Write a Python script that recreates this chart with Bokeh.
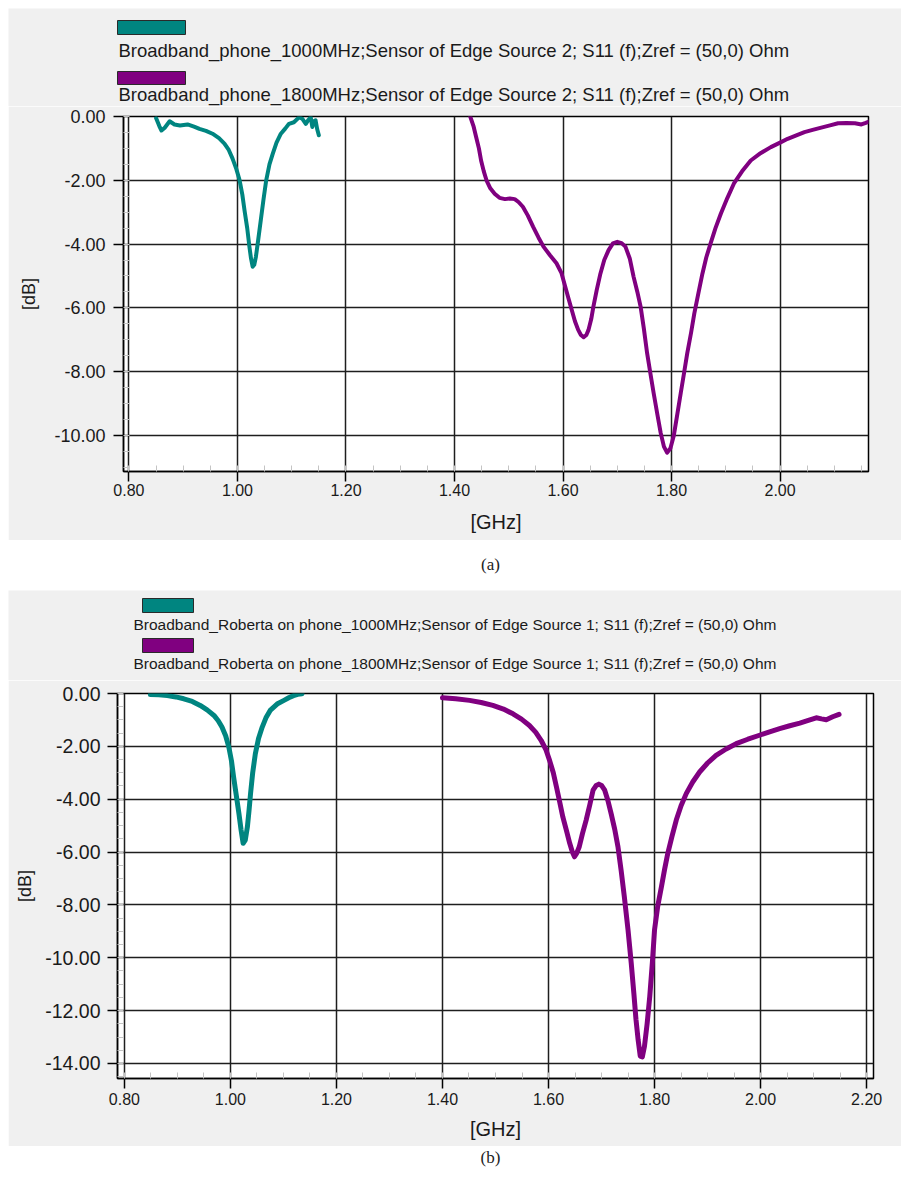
from bokeh.plotting import figure
from bokeh.models import Range1d, SingleIntervalTicker, NumeralTickFormatter, Div
from bokeh.layouts import column
from bokeh.core.properties import value
from bokeh.embed import file_html
from bokeh.resources import INLINE

# ---------------- data ----------------
# Panel (a): Broadband_phone
freq_a_1000 = [0.850, 0.856, 0.860, 0.866, 0.875, 0.884, 0.894, 0.908, 0.920, 0.930,
               0.942, 0.954, 0.966, 0.976, 0.984, 0.991, 0.998, 1.004, 1.009, 1.013,
               1.018, 1.022, 1.025, 1.028, 1.031, 1.034, 1.038, 1.043, 1.048, 1.053,
               1.059, 1.065, 1.072, 1.080, 1.088, 1.095, 1.104, 1.114, 1.120, 1.126,
               1.131, 1.135, 1.138, 1.141, 1.144, 1.147, 1.150]
s11_a_1000 = [-0.05, -0.30, -0.44, -0.35, -0.15, -0.25, -0.28, -0.25, -0.32, -0.39,
              -0.45, -0.54, -0.68, -0.85, -1.05, -1.32, -1.65, -2.00, -2.45, -2.94,
              -3.50, -4.08, -4.45, -4.71, -4.65, -4.40, -3.90, -3.25, -2.60, -2.00,
              -1.50, -1.17, -0.82, -0.54, -0.38, -0.23, -0.18, -0.02, -0.08, -0.23,
              -0.10, -0.02, -0.33, -0.15, -0.12, -0.40, -0.59]

freq_a_1800 = [1.428, 1.435, 1.440, 1.445, 1.449, 1.454, 1.459, 1.466, 1.474, 1.483,
               1.493, 1.502, 1.511, 1.518, 1.526, 1.535, 1.545, 1.555, 1.564, 1.576,
               1.588, 1.597, 1.604, 1.610, 1.616, 1.622, 1.628, 1.633, 1.638, 1.643,
               1.647, 1.652, 1.656, 1.662, 1.669, 1.676, 1.684, 1.692, 1.700, 1.708,
               1.715, 1.723, 1.730, 1.737, 1.743, 1.749, 1.755, 1.761, 1.767, 1.774,
               1.780, 1.786, 1.792, 1.798, 1.804, 1.810, 1.817, 1.823, 1.829, 1.836,
               1.842, 1.850, 1.857, 1.864, 1.872, 1.881, 1.891, 1.903, 1.915, 1.930,
               1.946, 1.964, 1.983, 2.000, 2.014, 2.030, 2.045, 2.060, 2.076, 2.092,
               2.107, 2.122, 2.138, 2.150, 2.158, 2.165]
s11_a_1800 = [0.05, -0.30, -0.65, -1.00, -1.38, -1.72, -2.00, -2.25, -2.42, -2.55,
              -2.59, -2.57, -2.59, -2.68, -2.83, -3.10, -3.46, -3.80, -4.08, -4.35,
              -4.60, -4.90, -5.33, -5.70, -6.06, -6.42, -6.69, -6.85, -6.92, -6.85,
              -6.69, -6.35, -5.96, -5.45, -4.92, -4.50, -4.19, -3.98, -3.93, -3.97,
              -4.08, -4.45, -5.02, -5.50, -5.96, -6.65, -7.42, -8.05, -8.67, -9.35,
              -9.92, -10.35, -10.54, -10.40, -10.02, -9.40, -8.67, -8.05, -7.42, -6.78,
              -6.17, -5.50, -4.92, -4.42, -3.98, -3.50, -3.04, -2.55, -2.10, -1.72,
              -1.38, -1.15, -0.96, -0.82, -0.70, -0.59, -0.49, -0.42, -0.35, -0.28,
              -0.21, -0.20, -0.21, -0.25, -0.20, -0.15]

# Panel (b): Broadband_Roberta on phone
freq_b_1000 = [0.849, 0.865, 0.881, 0.897, 0.912, 0.928, 0.943, 0.956, 0.969, 0.977,
               0.984, 0.991, 0.997, 1.002, 1.006, 1.011, 1.016, 1.020, 1.024, 1.028,
               1.032, 1.035, 1.038, 1.042, 1.047, 1.053, 1.060, 1.067, 1.075, 1.088,
               1.101, 1.110, 1.119, 1.127, 1.135]
s11_b_1000 = [-0.04, -0.05, -0.08, -0.13, -0.20, -0.30, -0.45, -0.62, -0.83, -1.03,
              -1.27, -1.60, -2.03, -2.55, -3.16, -3.85, -4.54, -5.15, -5.67, -5.55,
              -5.05, -4.45, -3.78, -3.00, -2.28, -1.70, -1.27, -0.92, -0.64, -0.40,
              -0.26, -0.16, -0.08, -0.03, -0.01]

freq_b_1800 = [1.400, 1.425, 1.451, 1.473, 1.495, 1.515, 1.533, 1.549, 1.564, 1.576,
               1.586, 1.595, 1.602, 1.609, 1.615, 1.621, 1.627, 1.634, 1.640, 1.645,
               1.649, 1.653, 1.658, 1.664, 1.671, 1.678, 1.684, 1.690, 1.695, 1.700,
               1.706, 1.712, 1.718, 1.725, 1.731, 1.737, 1.743, 1.750, 1.756, 1.761,
               1.765, 1.769, 1.773, 1.777, 1.781, 1.786, 1.791, 1.796, 1.800, 1.806,
               1.813, 1.819, 1.825, 1.833, 1.841, 1.850, 1.860, 1.872, 1.885, 1.900,
               1.916, 1.935, 1.954, 1.976, 1.998, 2.017, 2.036, 2.055, 2.074, 2.090,
               2.105, 2.115, 2.124, 2.136, 2.148]
s11_b_1800 = [-0.16, -0.20, -0.26, -0.34, -0.45, -0.59, -0.77, -0.97, -1.21, -1.47,
              -1.77, -2.12, -2.53, -3.00, -3.54, -4.10, -4.67, -5.20, -5.67, -6.00,
              -6.18, -6.05, -5.80, -5.30, -4.79, -4.20, -3.66, -3.48, -3.43, -3.48,
              -3.66, -4.05, -4.54, -5.15, -5.80, -6.70, -7.69, -8.95, -10.20, -11.35,
              -12.34, -13.10, -13.72, -13.75, -13.35, -12.50, -11.46, -10.15, -8.94, -8.05,
              -7.31, -6.65, -6.05, -5.40, -4.79, -4.25, -3.78, -3.35, -2.97, -2.63,
              -2.34, -2.10, -1.90, -1.73, -1.58, -1.45, -1.33, -1.22, -1.12, -1.02,
              -0.92, -0.96, -0.99, -0.88, -0.79]

legend_a = ["Broadband_phone_1000MHz;Sensor of Edge Source 2; S11 (f);Zref = (50,0) Ohm",
            "Broadband_phone_1800MHz;Sensor of Edge Source 2; S11 (f);Zref = (50,0) Ohm"]
legend_b = ["Broadband_Roberta on phone_1000MHz;Sensor of Edge Source 1; S11 (f);Zref = (50,0) Ohm",
            "Broadband_Roberta on phone_1800MHz;Sensor of Edge Source 1; S11 (f);Zref = (50,0) Ohm"]
captions = ["(a)", "(b)"]
x_label = "[GHz]"
y_label = "[dB]"

# ---------------- style ----------------
GRAY = "#f0f0f0"
TEAL = "#008580"
PURPLE = "#800080"
INK = "#1a1a1a"
SANS = "Liberation Sans"
NARROW = "'Liberation Sans Narrow', 'Liberation Sans', sans-serif"
W = 893
PAGE_X = 8


def legend_panel(height, page_top, texts, colors, sw_x, sw_y, tx, ty, fs):
    """Legend block: its own frameless strip, laid out in page pixels."""
    p = figure(width=W, height=height, x_range=Range1d(0, W), y_range=Range1d(height, 0),
               output_backend="svg", toolbar_location=None, title=None,
               x_axis_location=None, y_axis_location=None, min_border=0,
               outline_line_color=None, background_fill_color=GRAY, border_fill_color=GRAY,
               frame_align=False)
    p.grid.visible = False
    for i, (text, col) in enumerate(zip(texts, colors)):
        p.quad(left=[sw_x[0] - PAGE_X], right=[sw_x[1] - PAGE_X],
               top=[sw_y[i][0] - page_top], bottom=[sw_y[i][1] - page_top],
               fill_color=col, line_color="#2a2a2a", line_width=1)
        p.text(x=[tx - PAGE_X], y=[ty[i] - page_top], text=[text],
               text_font=value(SANS), text_font_size=value(fs), text_color=INK,
               text_align="left", text_baseline="middle")
    return p


def make_panel(xr, yr, height, ml, mr, mt, mb, series, lg):
    p = figure(width=W, height=height, x_range=Range1d(*xr), y_range=Range1d(*yr),
               output_backend="svg", toolbar_location=None, title=None,
               min_border_left=ml, min_border_right=mr, min_border_top=mt, min_border_bottom=mb,
               background_fill_color="white", border_fill_color=GRAY,
               outline_line_color="black", outline_line_width=1.5, frame_align=False)

    p.xaxis.ticker = SingleIntervalTicker(interval=0.2, num_minor_ticks=4)
    p.yaxis.ticker = SingleIntervalTicker(interval=2, num_minor_ticks=4)
    for ax in (p.xaxis, p.yaxis):
        ax.formatter = NumeralTickFormatter(format="0.00")
        ax.axis_line_color = "black"
        ax.axis_line_width = 1.5
        ax.major_tick_out = 10
        ax.major_tick_in = 0
        ax.major_tick_line_color = "black"
        ax.major_tick_line_width = 1.5
        ax.minor_tick_in = 6
        ax.minor_tick_out = 0
        ax.minor_tick_line_color = "#c4c4c4"
        ax.minor_tick_line_width = 1
        ax.major_label_text_color = INK
        ax.axis_label_text_color = INK
        ax.axis_label_text_font_style = "normal"
        ax.axis_label_text_font = SANS
    p.xaxis.major_label_text_font = NARROW
    p.xaxis.major_label_text_font_size = lg["xtick"]
    p.xaxis.major_label_standoff = lg["xstand"]
    p.xaxis.axis_label = x_label
    p.xaxis.axis_label_text_font_size = "20px"
    p.xaxis.axis_label_standoff = lg["xlabstand"]
    p.yaxis.major_label_text_font = SANS
    p.yaxis.major_label_text_font_size = lg["ytick"]
    p.yaxis.major_label_standoff = lg["ystand"]
    p.yaxis.axis_label = y_label
    p.yaxis.axis_label_text_font_size = "18px"
    p.yaxis.axis_label_standoff = lg["ylabstand"]

    for g in (p.xgrid, p.ygrid):
        g.grid_line_color = "#1e1e1e"
        g.grid_line_width = 1.5

    for (fx, fy, col) in series:
        p.line(fx, fy, line_color=col, line_width=lg["lw"], line_join="round", line_cap="round")
    return p


# Panel (a): legend strip page y 8..106, plot 106..540
la = legend_panel(98, 8, legend_a, [TEAL, PURPLE],
                  sw_x=(117, 185), sw_y=[(20, 34), (71, 84)], tx=118, ty=[50, 94], fs="18.5px")
pa = make_panel(xr=(0.790, 2.163), yr=(-11.13, 0.0), height=434,
                ml=115, mr=33, mt=10, mb=69,
                series=[(freq_a_1000, s11_a_1000, TEAL), (freq_a_1800, s11_a_1800, PURPLE)],
                lg=dict(xtick="16px", ytick="18px", xstand=2, ystand=8,
                        xlabstand=12, ylabstand=12, lw=4))

# Panel (b): legend strip page y 590..680, plot 680..1146
lb = legend_panel(90, 590, legend_b, [TEAL, PURPLE],
                  sw_x=(142, 193), sw_y=[(598, 612), (638, 652)], tx=133, ty=[624, 663], fs="15.5px")
pb = make_panel(xr=(0.787, 2.213), yr=(-14.57, 0.0), height=466,
                ml=109, mr=28, mt=13, mb=68,
                series=[(freq_b_1000, s11_b_1000, TEAL), (freq_b_1800, s11_b_1800, PURPLE)],
                lg=dict(xtick="16px", ytick="19.5px", xstand=4, ystand=7,
                        xlabstand=10, ylabstand=7, lw=5))


def caption(text, h):
    html = ('<div style="width:%dpx;height:%dpx;line-height:%dpx;text-align:center;'
            'padding-left:72px;box-sizing:border-box;font-family:\'Liberation Serif\',serif;'
            'font-size:17px;color:#222;">%s</div>' % (W, h, h, text))
    return Div(text=html, width=W, height=h, margin=(0, 0, 0, 0))


layout = column(la, pa, caption(captions[0], 50), lb, pb, caption(captions[1], 23),
                spacing=0, margin=(8, 0, 0, PAGE_X))

open("out.html", "w").write(file_html(layout, INLINE))
